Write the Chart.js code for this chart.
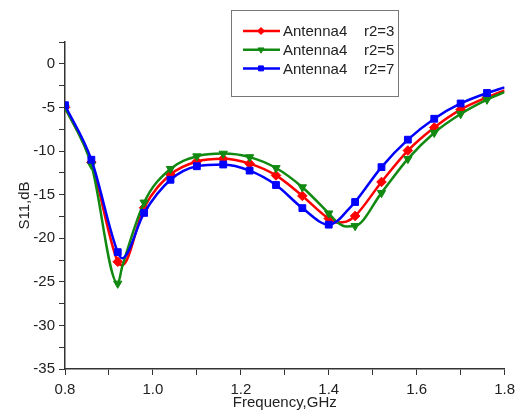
<!DOCTYPE html>
<html>
<head>
<meta charset="utf-8">
<script src="https://cdn.jsdelivr.net/npm/chart.js@4/dist/chart.umd.min.js"></script>
<style>
  body { margin: 0; background: #fff; }
  canvas { display: block; }
</style>
</head>
<body>
<canvas id="s11-chart" width="521" height="411"></canvas>
<script>
// frequency points (GHz)
const freqs = [0.80, 0.86, 0.92, 0.93, 0.98, 1.04, 1.10, 1.16, 1.22, 1.28, 1.34, 1.40, 1.42, 1.44, 1.46, 1.52, 1.58, 1.64, 1.70, 1.76, 1.80];
// points that carry a marker in the original plot
const markerFreqs = [0.80, 0.86, 0.92, 0.98, 1.04, 1.10, 1.16, 1.22, 1.28, 1.34, 1.40, 1.46, 1.52, 1.58, 1.64, 1.70, 1.76];

const s11_r3 = [-5.0, -11.3, -22.7, -23.1, -16.5, -12.7, -11.2, -10.9, -11.45, -12.8, -15.15, -17.75, -18.2, -18.1, -17.45, -13.55, -9.95, -7.3, -5.25, -3.85, -3.05];
const s11_r5 = [-5.0, -11.6, -25.2, -23.3, -15.9, -12.05, -10.6, -10.3, -10.7, -11.95, -14.15, -17.15, -18.2, -18.65, -18.6, -14.8, -10.9, -7.9, -5.75, -4.1, -3.25];
const s11_r7 = [-4.75, -11.0, -21.6, -22.3, -17.1, -13.3, -11.75, -11.55, -12.25, -13.9, -16.55, -18.45, -18.0, -16.95, -15.85, -11.85, -8.7, -6.3, -4.55, -3.35, -2.7];

const seriesLabels = ["Antenna4    r2=3", "Antenna4    r2=5", "Antenna4    r2=7"];
const xTitle = "Frequency,GHz";
const yTitle = "S11,dB";

const FONT = "Arial, 'Liberation Sans', sans-serif";

function toPoints(values) {
  return freqs.map((f, i) => ({ x: f, y: values[i] }));
}

function isMarker(x) {
  return markerFreqs.some((m) => Math.abs(m - x) < 1e-6);
}

function makeDataset(label, values, color, style, rotation, radius, order) {
  return {
    label: label,
    data: toPoints(values),
    borderColor: color,
    backgroundColor: color,
    borderWidth: 2.5,
    cubicInterpolationMode: "monotone",
    pointStyle: style,
    rotation: rotation,
    pointRadius: (ctx) => (isMarker(ctx.raw.x) ? radius : 0),
    pointBorderWidth: 1,
    pointBorderColor: color,
    pointBackgroundColor: color,
    order: order,
  };
}

const datasets = [
  makeDataset(seriesLabels[0], s11_r3, "#ff0000", "rectRot", 0, 4.8, 2),
  makeDataset(seriesLabels[1], s11_r5, "#128a12", "triangle", 180, 4.8, 1),
  makeDataset(seriesLabels[2], s11_r7, "#0000ff", "rect", 0, 4.8, 0),
];

// legend box drawn inside the plot like the original
const boxedLegend = {
  id: "boxedLegend",
  afterDraw(chart) {
    const ctx = chart.ctx;
    ctx.save();
    ctx.strokeStyle = "#777";
    ctx.lineWidth = 1;
    ctx.strokeRect(231.5, 10.5, 167, 86);
    ctx.font = "15px " + FONT;
    ctx.textBaseline = "middle";
    chart.data.datasets.forEach((ds, i) => {
      const y = 31 + i * 18.7;
      ctx.strokeStyle = ds.borderColor;
      ctx.lineWidth = 2.5;
      ctx.beginPath();
      ctx.moveTo(243, y);
      ctx.lineTo(280, y);
      ctx.stroke();
      ctx.fillStyle = ds.borderColor;
      ctx.lineWidth = 1;
      Chart.helpers.drawPoint(ctx, { pointStyle: ds.pointStyle, rotation: ds.rotation, radius: 3.5, borderWidth: 1 }, 261, y);
      ctx.fillStyle = "#222";
      ctx.fillText(ds.label, 283, y + 1);
    });
    ctx.restore();
  },
};

new Chart(document.getElementById("s11-chart"), {
  type: "line",
  data: { datasets: datasets },
  plugins: [boxedLegend],
  options: {
    responsive: false,
    animation: false,
    devicePixelRatio: 1,
    layout: { padding: { top: 42, right: 16, left: 0, bottom: 0 } },
    plugins: {
      legend: { display: false },
      tooltip: { enabled: false },
    },
    scales: {
      x: {
        type: "linear",
        min: 0.8,
        max: 1.8,
        afterFit: (scale) => { scale.height = 42; },
        border: { display: true, color: "#333", width: 1.5 },
        grid: { display: true, drawOnChartArea: false, drawTicks: true, tickLength: 6, color: "#333", lineWidth: 1 },
        ticks: {
          stepSize: 0.1,
          autoSkip: false,
          maxRotation: 0,
          padding: 6,
          color: "#222",
          font: { size: 15, family: FONT },
          callback: (v) => (Math.round(v * 10) % 2 === 0 ? v.toFixed(1) : ""),
        },
        title: {
          display: true,
          text: xTitle,
          color: "#222",
          font: { size: 15, family: FONT },
          padding: { top: 0, bottom: -1 },
        },
      },
      y: {
        min: -35,
        max: 2.5,
        afterFit: (scale) => { scale.width = 65; },
        border: { display: true, color: "#333", width: 1.5 },
        grid: { display: true, drawOnChartArea: false, drawTicks: true, tickLength: 6, color: "#333", lineWidth: 1 },
        ticks: {
          stepSize: 2.5,
          autoSkip: false,
          padding: 4,
          color: "#222",
          font: { size: 15, family: FONT },
          callback: (v) => (Math.abs(v % 5) < 1e-6 ? String(v) : ""),
        },
        title: {
          display: true,
          text: yTitle,
          color: "#222",
          font: { size: 15, family: FONT },
          padding: { top: 16, bottom: 0 },
        },
      },
    },
  },
});
</script>
</body>
</html>
